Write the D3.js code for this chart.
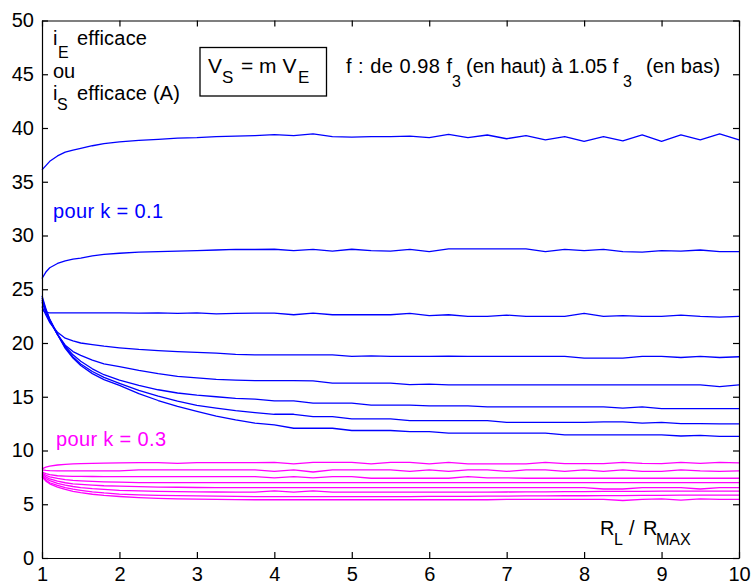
<!DOCTYPE html>
<html>
<head>
<meta charset="utf-8">
<script src="https://cdn.jsdelivr.net/npm/d3@7"></script>
<style>
  html, body { margin: 0; padding: 0; background: #fff; }
  svg { display: block; }
  text { font-family: "Liberation Sans", Arial, sans-serif; }
</style>
</head>
<body>
<svg id="chart" width="752" height="584"></svg>
<script>
// ---- data ----
const xValues = [1, 1.05, 1.1, 1.2, 1.3, 1.4, 1.5, 1.65, 1.8,
  2, 2.25, 2.5, 2.75, 3, 3.25, 3.5, 3.75, 4, 4.25, 4.5, 4.75, 5, 5.25, 5.5, 5.75,
  6, 6.25, 6.5, 6.75, 7, 7.25, 7.5, 7.75, 8, 8.25, 8.5, 8.75, 9, 9.25, 9.5, 9.75, 10];

// k = 0.1 (blue), top to bottom
const blue1 = [36.1, 36.5, 36.9, 37.4, 37.75, 37.95, 38.1, 38.35, 38.55,
  38.7, 38.85, 38.95, 39.05, 39.1, 39.2, 39.25, 39.3, 39.38, 39.3, 39.45, 39.2, 39.15, 39.2, 39.2, 39.25,
  39.1, 39.4, 39.1, 39.35, 39.0, 39.3, 38.9, 39.2, 38.75, 39.2, 38.8, 39.35, 38.75, 39.35, 38.9, 39.45, 38.9];
const blue2 = [26.0, 26.6, 27.0, 27.4, 27.65, 27.8, 27.9, 28.1, 28.25,
  28.35, 28.45, 28.5, 28.55, 28.6, 28.65, 28.7, 28.7, 28.72, 28.6, 28.7, 28.55, 28.72, 28.6, 28.55, 28.7,
  28.5, 28.75, 28.75, 28.75, 28.75, 28.75, 28.5, 28.7, 28.6, 28.7, 28.5, 28.45, 28.6, 28.55, 28.65, 28.5, 28.5];
const blue3 = [23.1, 22.85, 22.8, 22.8, 22.8, 22.8, 22.8, 22.8, 22.8,
  22.8, 22.78, 22.8, 22.75, 22.8, 22.7, 22.75, 22.78, 22.78, 22.63, 22.78, 22.63, 22.63, 22.63, 22.63, 22.75,
  22.55, 22.63, 22.47, 22.47, 22.6, 22.47, 22.47, 22.47, 22.75, 22.47, 22.55, 22.47, 22.47, 22.6, 22.47, 22.4, 22.47];
const blue4 = [23.4, 22.6, 21.9, 21.0, 20.45, 20.2, 20.0, 19.85, 19.7,
  19.55, 19.4, 19.3, 19.2, 19.12, 19.05, 18.95, 18.9, 18.9, 18.9, 18.9, 18.9, 18.75, 18.8, 18.75, 18.75,
  18.75, 18.78, 18.75, 18.75, 18.75, 18.75, 18.75, 18.75, 18.6, 18.6, 18.6, 18.75, 18.75, 18.65, 18.75, 18.65, 18.72];
const blue5 = [23.8, 22.8, 22.0, 20.8, 19.8, 19.2, 18.85, 18.4, 18.05,
  17.8, 17.45, 17.15, 16.9, 16.75, 16.62, 16.55, 16.5, 16.5, 16.5, 16.48, 16.26, 16.26, 16.26, 16.26, 16.12,
  16.18, 16.1, 16.1, 16.1, 16.1, 16.1, 16.1, 16.1, 16.1, 16.1, 16.1, 16.1, 16.1, 16.1, 16.1, 15.95, 16.1];
const blue6 = [24.0, 23.0, 22.1, 20.8, 19.7, 18.9, 18.3, 17.6, 17.05,
  16.55, 16.05, 15.65, 15.35, 15.15, 15.0, 14.85, 14.77, 14.62, 14.62, 14.4, 14.4, 14.4, 14.22, 14.22, 14.22,
  14.15, 14.15, 14.15, 14.06, 14.06, 14.06, 14.06, 14.06, 14.06, 14.06, 13.95, 14.06, 13.9, 13.9, 13.9, 13.9, 13.9];
const blue7 = [24.2, 23.1, 22.2, 20.8, 19.6, 18.7, 18.05, 17.35, 16.8,
  16.25, 15.6, 15.05, 14.6, 14.2, 13.95, 13.7, 13.53, 13.37, 13.37, 13.16, 13.16, 12.94, 12.94, 12.94, 12.78,
  12.78, 12.78, 12.78, 12.78, 12.62, 12.62, 12.62, 12.62, 12.62, 12.67, 12.67, 12.55, 12.62, 12.5, 12.5, 12.47, 12.47];
const blue8 = [24.4, 23.2, 22.2, 20.8, 19.5, 18.6, 17.9, 17.15, 16.6,
  16.05, 15.3, 14.65, 14.1, 13.65, 13.2, 12.85, 12.55, 12.38, 12.07, 12.07, 12.07, 11.86, 11.86, 11.86, 11.76,
  11.76, 11.61, 11.61, 11.61, 11.61, 11.61, 11.61, 11.46, 11.46, 11.46, 11.46, 11.46, 11.46, 11.35, 11.4, 11.31, 11.31];

// k = 0.3 (magenta), top to bottom
const magenta1 = [8.3, 8.45, 8.55, 8.65, 8.7, 8.75, 8.78, 8.8, 8.82,
  8.85, 8.87, 8.88, 8.8, 8.88, 8.88, 8.88, 8.88, 8.9, 8.75, 8.9, 8.9, 8.9, 8.75, 8.9, 8.9,
  8.75, 8.9, 8.75, 8.75, 8.75, 8.75, 8.9, 8.78, 8.78, 8.78, 8.9, 8.8, 8.78, 8.9, 8.8, 8.9, 8.85];
const magenta2 = [8.2, 8.15, 8.12, 8.1, 8.1, 8.1, 8.1, 8.1, 8.1,
  8.1, 8.19, 8.19, 8.19, 8.19, 8.19, 8.19, 8.19, 8.05, 8.19, 8.0, 8.19, 8.19, 8.19, 8.19, 8.05,
  8.19, 8.05, 8.19, 8.19, 8.05, 8.19, 8.19, 8.05, 8.19, 8.05, 8.19, 8.05, 8.05, 8.19, 8.1, 8.05, 8.1];
const magenta3 = [8.0, 7.85, 7.75, 7.65, 7.62, 7.6, 7.6, 7.58, 7.57,
  7.57, 7.57, 7.57, 7.57, 7.57, 7.57, 7.57, 7.57, 7.45, 7.57, 7.45, 7.57, 7.57, 7.42, 7.42, 7.42,
  7.42, 7.42, 7.57, 7.45, 7.45, 7.42, 7.42, 7.42, 7.42, 7.42, 7.42, 7.42, 7.42, 7.42, 7.42, 7.42, 7.42];
const magenta4 = [7.9, 7.7, 7.55, 7.4, 7.3, 7.22, 7.18, 7.12, 7.08,
  7.05, 7.02, 7.01, 7.01, 7.01, 7.01, 7.01, 7.01, 7.01, 7.01, 7.01, 7.01, 7.01, 7.01, 7.01, 7.01,
  7.01, 7.01, 7.01, 7.01, 7.01, 7.01, 7.01, 7.01, 7.01, 7.01, 7.01, 7.01, 7.01, 7.01, 7.01, 7.01, 7.01];
const magenta5 = [7.8, 7.55, 7.35, 7.15, 7.0, 6.9, 6.85, 6.78, 6.72,
  6.68, 6.64, 6.6, 6.58, 6.56, 6.55, 6.55, 6.55, 6.55, 6.55, 6.55, 6.55, 6.55, 6.55, 6.55, 6.55,
  6.55, 6.55, 6.55, 6.55, 6.55, 6.55, 6.55, 6.55, 6.55, 6.42, 6.42, 6.55, 6.55, 6.55, 6.42, 6.55, 6.55];
const magenta6 = [7.7, 7.4, 7.2, 6.95, 6.78, 6.65, 6.55, 6.45, 6.38,
  6.3, 6.24, 6.2, 6.17, 6.15, 6.14, 6.13, 6.12, 6.25, 6.12, 6.25, 6.12, 6.12, 6.12, 6.12, 6.12,
  6.12, 6.12, 6.12, 6.12, 6.14, 6.16, 6.16, 6.18, 6.18, 6.2, 6.2, 6.2, 6.22, 6.22, 6.22, 6.22, 6.22];
const magenta7 = [7.6, 7.25, 7.0, 6.75, 6.55, 6.4, 6.3, 6.15, 6.05,
  5.95, 5.88, 5.83, 5.8, 5.78, 5.75, 5.73, 5.71, 5.71, 5.71, 5.71, 5.71, 5.71, 5.71, 5.71, 5.71,
  5.73, 5.73, 5.73, 5.75, 5.75, 5.77, 5.77, 5.79, 5.79, 5.81, 5.81, 5.83, 5.83, 5.85, 5.85, 5.85, 5.85];
const magenta8 = [7.55, 7.15, 6.9, 6.6, 6.38, 6.2, 6.08, 5.93, 5.82,
  5.72, 5.62, 5.55, 5.5, 5.47, 5.45, 5.43, 5.42, 5.42, 5.42, 5.42, 5.42, 5.42, 5.42, 5.42, 5.42,
  5.42, 5.42, 5.42, 5.42, 5.45, 5.45, 5.45, 5.45, 5.45, 5.45, 5.35, 5.45, 5.5, 5.38, 5.5, 5.45, 5.45];

const blueSeries = [blue1, blue2, blue3, blue4, blue5, blue6, blue7, blue8];
const magentaSeries = [magenta1, magenta2, magenta3, magenta4, magenta5, magenta6, magenta7, magenta8];

const xTicks = [1, 2, 3, 4, 5, 6, 7, 8, 9, 10];
const yTicks = [0, 5, 10, 15, 20, 25, 30, 35, 40, 45, 50];

// ---- drawing ----
(function () {
const svg = d3.select("#chart");
const W = 752, H = 584;
const mLeft = 42, mRight = 739, mTop = 20.5, mBottom = 558;

svg.append("rect").attr("width", W).attr("height", H).attr("fill", "#fff");

const x = d3.scaleLinear().domain([1, 10]).range([mLeft, mRight]);
const y = d3.scaleLinear().domain([0, 50]).range([mBottom, mTop]);

const line = d3.line()
  .x((d, i) => x(xValues[i]))
  .y(d => y(d));

const plot = svg.append("g");
magentaSeries.forEach(s => {
  plot.append("path").attr("d", line(s)).attr("fill", "none")
    .attr("stroke", "#ff00ff").attr("stroke-width", 1.3).attr("stroke-linejoin", "round");
});
blueSeries.forEach(s => {
  plot.append("path").attr("d", line(s)).attr("fill", "none")
    .attr("stroke", "#0000ff").attr("stroke-width", 1.3).attr("stroke-linejoin", "round");
});

// axes (MATLAB style: ticks inside, frame on all sides)
const fontSize = 20;
const gx = svg.append("g").attr("transform", `translate(0,${mBottom})`)
  .call(d3.axisBottom(x).tickValues(xTicks).tickFormat(d3.format("d")).tickSize(-6).tickSizeOuter(0).tickPadding(9));
const gy = svg.append("g").attr("transform", `translate(${mLeft},0)`)
  .call(d3.axisLeft(y).tickValues(yTicks).tickFormat(d3.format("d")).tickSize(-6).tickSizeOuter(0).tickPadding(8));
const gt = svg.append("g").attr("transform", `translate(0,${mTop})`)
  .call(d3.axisTop(x).tickValues(xTicks).tickFormat("").tickSize(-6).tickSizeOuter(0));
const gr = svg.append("g").attr("transform", `translate(${mRight},0)`)
  .call(d3.axisRight(y).tickValues(yTicks).tickFormat("").tickSize(-6).tickSizeOuter(0));

[gx, gy, gt, gr].forEach(g => {
  g.selectAll("path.domain").attr("stroke", "#000").attr("stroke-width", 1.2);
  g.selectAll(".tick line").attr("stroke", "#000").attr("stroke-width", 1.2);
  g.selectAll(".tick text").attr("fill", "#000")
    .style("font-family", '"Liberation Sans", Arial, sans-serif').style("font-size", fontSize + "px");
});

// ---- annotations ----
function txt(xp, yp, s, size, color, ls) {
  return svg.append("text").attr("x", xp).attr("y", yp).attr("font-size", size)
    .attr("letter-spacing", ls || 0)
    .attr("fill", color || "#000").text(s);
}

// y label block
txt(53, 45, "i", 20); txt(58, 58, "E", 16); txt(77, 45, "efficace", 20, null, 0.2);
txt(53, 78, "ou", 20);
txt(53, 100, "i", 20); txt(57, 109.5, "S", 16); txt(77, 100, "efficace (A)", 20, null, 0.2);

// boxed equation
svg.append("rect").attr("x", 200).attr("y", 47.5).attr("width", 126.5).attr("height", 48.5)
  .attr("fill", "none").attr("stroke", "#000").attr("stroke-width", 1.3);
txt(208, 72.5, "V", 21); txt(222, 82.5, "S", 17); txt(241, 72.5, "= m V", 21); txt(298, 82.5, "E", 17);

// frequency note
txt(346, 73, "f : de 0.98 f", 20, null, 0.5);
txt(452, 86.5, "3", 16);
txt(466, 73, "(en haut) à 1.05 f", 20, null, 0);
txt(623, 86.5, "3", 16);
txt(646, 73, "(en bas)", 20, null, 0.1);

// series labels
txt(53, 218, "pour k = 0.1", 20, "#0000ff", 0.35);
txt(56, 446, "pour k = 0.3", 20, "#ff00ff", 0.35);

// x label
txt(600, 534.5, "R", 20); txt(614, 545, "L", 16); txt(629, 534.5, "/", 20);
txt(643, 534.5, "R", 20); txt(656, 545, "MAX", 16);
})();
</script>
</body>
</html>
